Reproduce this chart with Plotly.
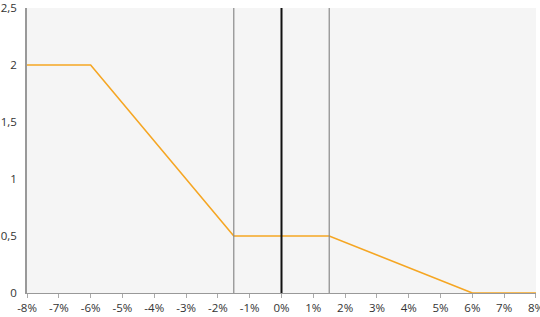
import plotly.graph_objects as go

x_pct = [-8, -6, -1.5, 1.5, 6, 8]
y_val = [2, 2, 0.5, 0.5, 0, 0]
x_ticks = [-8, -7, -6, -5, -4, -3, -2, -1, 0, 1, 2, 3, 4, 5, 6, 7, 8]
x_ticktext = [f"{v}%" for v in x_ticks]
y_ticks = [0, 0.5, 1, 1.5, 2, 2.5]
y_ticktext = ["0", "0,5", "1", "1,5", "2", "2,5"]
band_lines = [-1.5, 1.5]
center_line = 0

fig = go.Figure()
fig.add_trace(go.Scatter(x=x_pct, y=y_val, mode="lines",
                         line=dict(color="#f5a623", width=1.6),
                         showlegend=False, hoverinfo="skip", cliponaxis=False))

for xv in band_lines:
    fig.add_shape(type="line", xref="x", yref="paper", x0=xv, x1=xv, y0=0, y1=1,
                  line=dict(color="#8a8a8a", width=1.2))
fig.add_shape(type="line", xref="x", yref="paper", x0=center_line, x1=center_line, y0=0, y1=1,
              line=dict(color="#111111", width=2))

fig.update_layout(
    width=540, height=317,
    margin=dict(l=27, r=4, t=8, b=24),
    paper_bgcolor="white",
    plot_bgcolor="#f5f5f5",
    font=dict(family="Open Sans, sans-serif", size=11.5, color="#333333"),
    xaxis=dict(range=[-8.0005, 8.0005], tickvals=x_ticks, ticktext=x_ticktext,
               showgrid=False, zeroline=False, showline=True, linecolor="#999999",
               linewidth=1, ticks="outside", ticklen=4, tickcolor="#aaaaaa",
               ticklabeloverflow="allow", automargin=False),
    yaxis=dict(range=[0, 2.5003], tickvals=y_ticks, ticktext=y_ticktext,
               showgrid=False, zeroline=False, showline=True, linecolor="#999999",
               linewidth=1.5, ticks="", ticklabelstandoff=6,
               ticklabeloverflow="allow", automargin=False),
)

fig.write_html("out.html")
